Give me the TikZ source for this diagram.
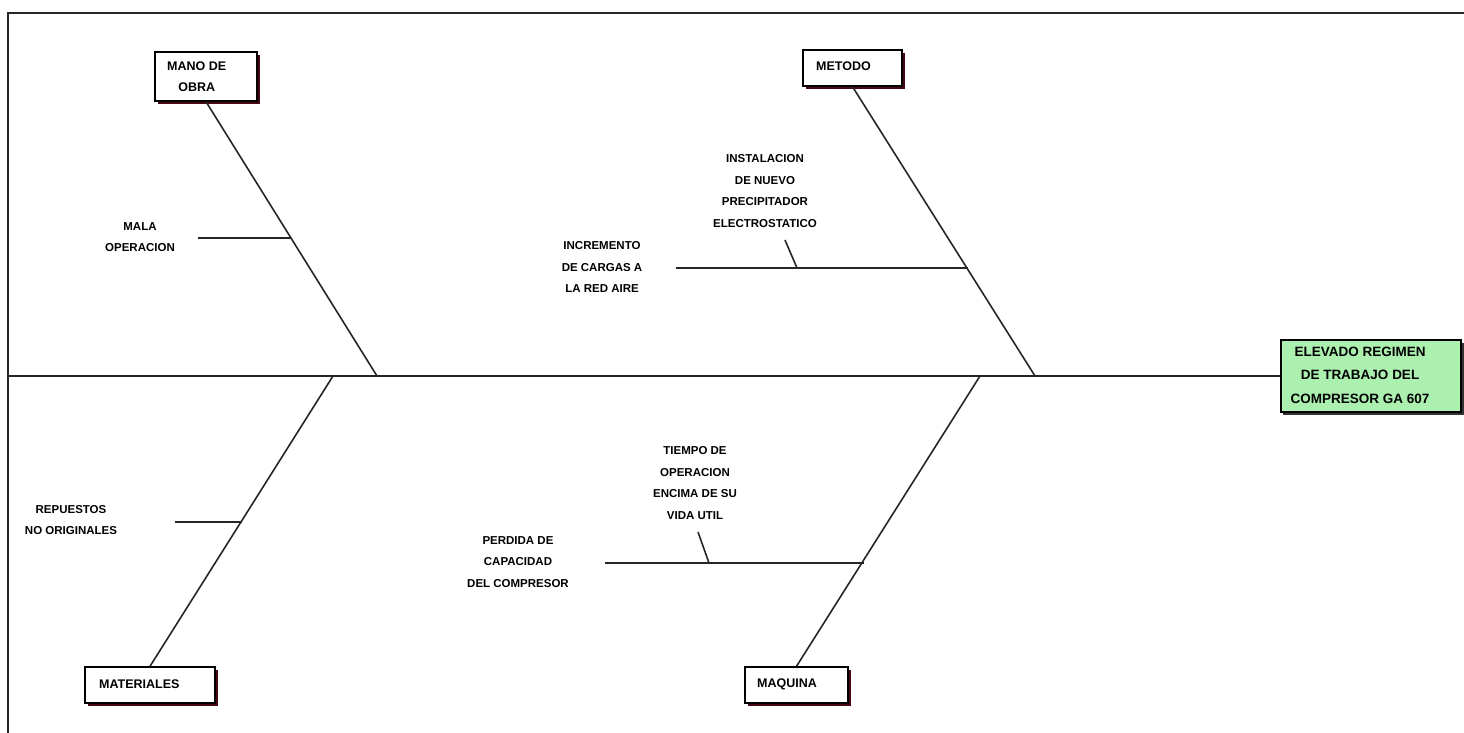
\documentclass[tikz,border=0pt]{standalone}
\usepackage{fontspec}
\setmainfont{Liberation Sans}
\begin{document}
\begin{tikzpicture}[x=1pt,y=-1pt,
  lbl/.style={font=\bfseries\fontsize{11.5}{21.5}\selectfont, align=center, inner sep=0pt},
  catlbl/.style={font=\bfseries\fontsize{12.5}{21}\selectfont, align=center, inner sep=0pt},
  bone/.style={line width=1.6pt, draw=black!85},
  cat/.style={draw=black, line width=1.4pt, fill=white, inner sep=0pt},
  shadow/.style={fill=shadowred},
]
\definecolor{shadowred}{RGB}{70,8,18}
\definecolor{headgreen}{RGB}{172,240,176}
\useasboundingbox (0,0) rectangle (1464,733);

% outer frame (top and left edges)
\draw[line width=1.6pt, black!85] (8,733) -- (8,13) -- (1464,13);

% category boxes, each with a dark offset shadow
\fill[shadow] (158,55) rectangle (260,104);
\node[cat, minimum width=102pt, minimum height=49pt] (mano) at (206,76.5) {};
\node[catlbl, anchor=west] at (167,76.5) {MANO DE\\OBRA};

\fill[shadow] (806,53) rectangle (905,89);
\node[cat, minimum width=99pt, minimum height=36pt] (metodo) at (852.5,68) {};
\node[catlbl, anchor=west] at (816,66) {METODO};

\fill[shadow] (88,670) rectangle (218,706);
\node[cat, minimum width=130pt, minimum height=36pt] (mat) at (150,685) {};
\node[catlbl, anchor=west] at (99,684) {MATERIALES};

\fill[shadow] (748,670) rectangle (851,706);
\node[cat, minimum width=103pt, minimum height=36pt] (maq) at (796.5,685) {};
\node[catlbl, anchor=west] at (757,684) {MAQUINA};

% effect box at the head of the spine
\fill[black!80] (1283,343) rectangle (1464,415);
\node[draw=black, line width=1.6pt, fill=headgreen, minimum width=180pt, minimum height=72pt, inner sep=0pt] (head) at (1371,376) {};
\node[font=\bfseries\fontsize{13.5}{23.5}\selectfont, align=center, inner sep=0pt] at (1360,375) {ELEVADO REGIMEN\\DE TRABAJO DEL\\COMPRESOR GA 607};

% spine
\coordinate (tail) at (8,376);
\draw[bone] (tail) -- (head.west);

% junctions of the main bones with the spine
\coordinate (jMano) at (377,376);
\coordinate (jMet) at (1035,376);
\coordinate (jMat) at (333,376);
\coordinate (jMaq) at (980,376);

\draw[bone] (mano.south) -- (jMano);
\draw[bone] (metodo.south) -- (jMet);
\draw[bone] (mat.north) -- (jMat);
\draw[bone] (maq.north) -- (jMaq);

% causes
\node[lbl] (mala) at (140,237) {MALA\\OPERACION};
\coordinate (mala0) at (198,238);
\coordinate (mala1) at (291,238);
\draw[bone] (mala0) -- (mala1);

\node[lbl] (incr) at (602,267) {INCREMENTO\\DE CARGAS A\\LA RED AIRE};
\coordinate (incr0) at (676,268);
\coordinate (incr1) at (968,268);
\draw[bone] (incr0) -- (incr1);

\node[lbl] (inst) at (765,191) {INSTALACION\\DE NUEVO\\PRECIPITADOR\\ELECTROSTATICO};
\coordinate (inst0) at (785,240);
\coordinate (inst1) at (797,268);
\draw[bone] (inst0) -- (inst1);

\node[lbl] (rep) at (71,520) {REPUESTOS\\NO ORIGINALES};
\coordinate (rep0) at (175,522);
\coordinate (rep1) at (242,522);
\draw[bone] (rep0) -- (rep1);

\node[lbl] (perd) at (518,562) {PERDIDA DE\\CAPACIDAD\\DEL COMPRESOR};
\coordinate (perd0) at (605,563);
\coordinate (perd1) at (864,563);
\draw[bone] (perd0) -- (perd1);

\node[lbl] (tiempo) at (695,483) {TIEMPO DE\\OPERACION\\ENCIMA DE SU\\VIDA UTIL};
\coordinate (tiempo0) at (698,532);
\coordinate (tiempo1) at (709,563);
\draw[bone] (tiempo0) -- (tiempo1);
\end{tikzpicture}
\end{document}
